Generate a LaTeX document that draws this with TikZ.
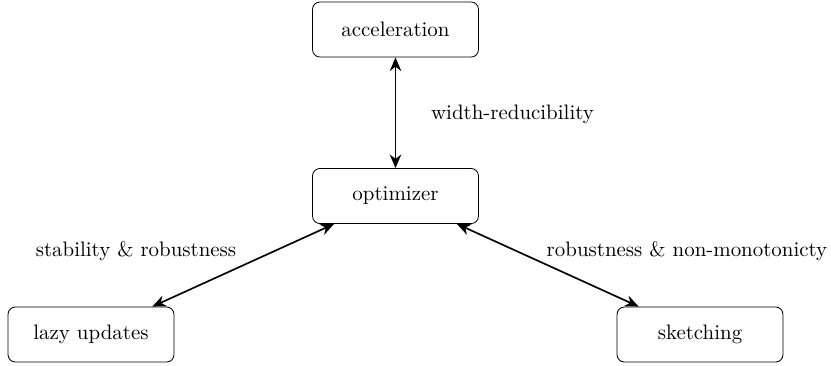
\documentclass[tikz,border=0pt]{standalone}
\usetikzlibrary{arrows.meta}
\begin{document}
\begin{tikzpicture}[x=0.478pt,y=-0.478pt,
  box/.style={draw,rounded corners=3.5pt,minimum width=79.3pt,minimum height=26.3pt,inner sep=0pt},
  link/.style={thick,{Stealth[length=6.5pt,width=5.5pt]}-{Stealth[length=6.5pt,width=5.5pt]}},
  lbl/.style={inner sep=0pt,anchor=base}]
\useasboundingbox (0,0) rectangle (831,365);
\node[box] (acc) at (395.5,29.5) {acceleration};
\node[box] (opt) at (395.5,196) {optimizer};
\node[box] (lazy) at (91,334.5) {lazy updates};
\node[box] (sk) at (700,334.5) {sketching};
\draw[link] (acc) -- (opt);
\draw[link] (opt) -- (lazy);
\draw[link] (opt) -- (sk);
\node[lbl] (l1) at (512.5,119) {width-reducibility};
\node[lbl] (l2) at (136,256) {stability \& robustness};
\node[lbl] (l3) at (687,256) {robustness \& non-monotonicty};
\end{tikzpicture}
\end{document}
